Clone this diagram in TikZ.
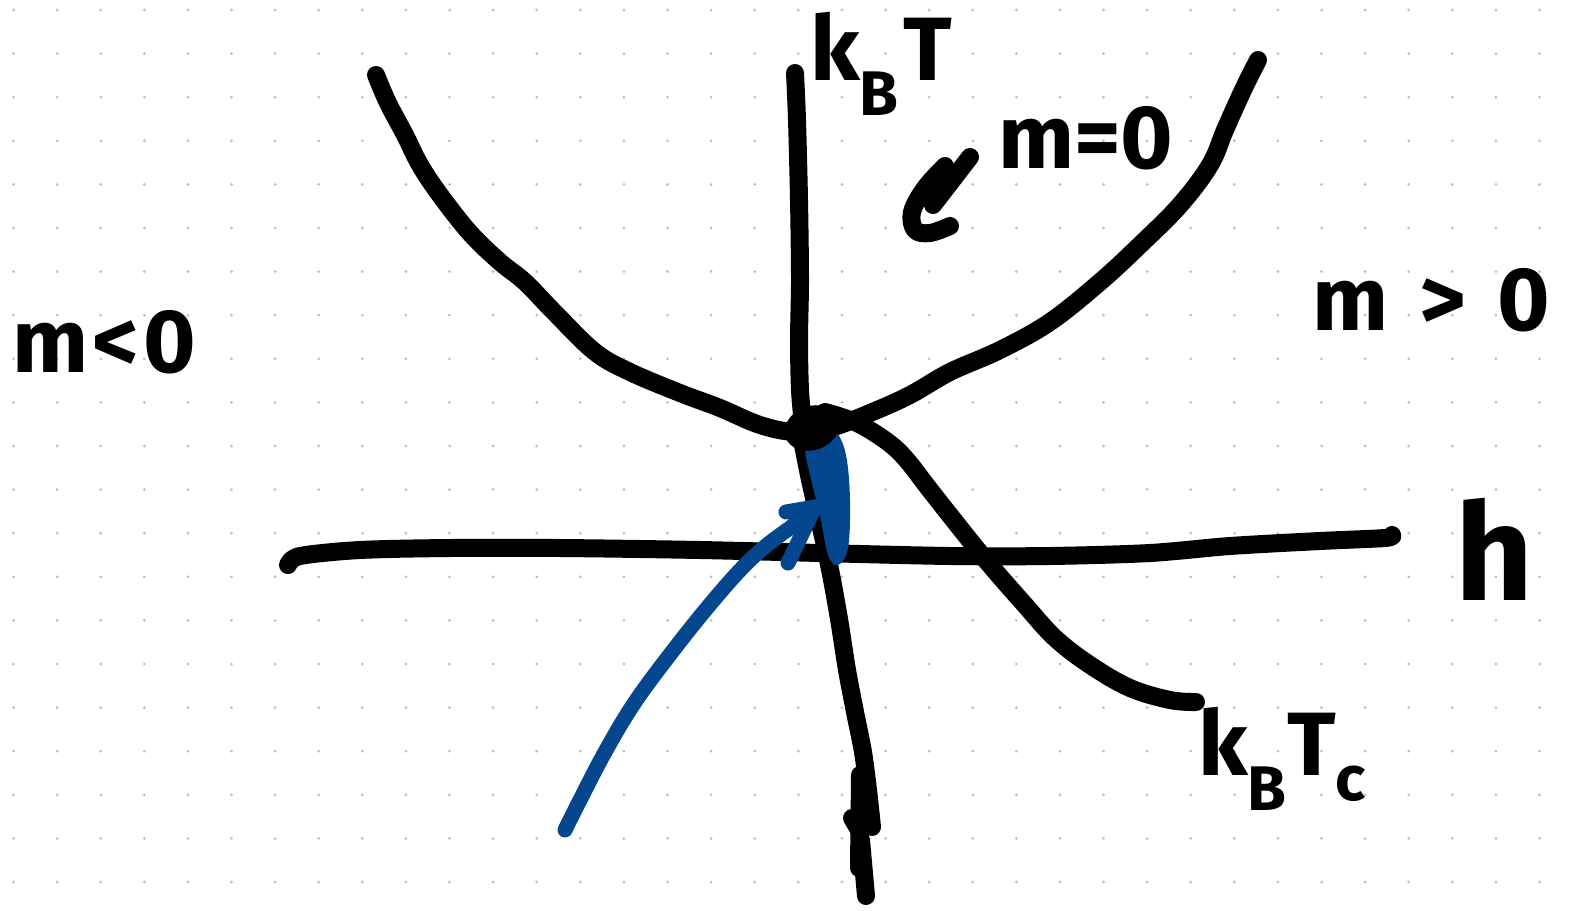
\documentclass[tikz,border=0pt]{standalone}
\usepackage{fontspec}
\setmainfont{Fira Sans}
\usetikzlibrary{positioning}
\definecolor{flowblue}{HTML}{04478F}
\definecolor{dotgray}{HTML}{BDBDBD}

\begin{document}
\begin{tikzpicture}[
  x=1pt,y=-1pt,
  pen/.style={draw=black,line width=18pt,line cap=round,line join=round},
  bluepen/.style={pen,draw=flowblue,line width=15pt},
  lbl/.style={inner sep=0pt,font=\fontsize{90}{90}\selectfont\bfseries},
  biglbl/.style={lbl,font=\fontsize{135}{135}\selectfont\bfseries}
]
\fill[white] (0,0) rectangle (1579,910);
\useasboundingbox (0,0) rectangle (1579,910);
% dotted paper
\foreach \i in {0,...,35}
  \foreach \j in {0,...,20}
    \fill[dotgray] (13.5+43.6*\i,10+43.6*\j) circle (1.5);

% h axis
\draw[pen] plot[smooth,tension=0.5] coordinates {(288,565) (300,556) (360,550) (450,548)
  (560,548) (700,550) (820,553) (950,556) (1050,556) (1150,553) (1230,546)
  (1320,541) (1385,538) (1392,535)};
% k_B T axis
\draw[pen] plot[smooth,tension=0.5] coordinates {(795,73) (797,120) (799,200) (800,280)
  (799,340) (800,390) (803,425)};
\draw[pen] plot[smooth,tension=0.5] coordinates {(803,445) (810,480) (818,515) (826,550)
  (833,585) (840,625) (847,670) (855,712) (863,752) (868,790) (872,827)};
\draw[pen] (860,775) -- (859,868);
\draw[pen] (852,818) -- (859,830);
\draw[pen] (861,840) -- (866,896);

% critical line m=0
\draw[pen] plot[smooth,tension=0.6] coordinates {(376,75) (388,103) (405,135) (420,165)
  (440,195) (470,233) (500,262) (525,282) (555,313) (595,352) (630,372)
  (680,393) (720,408) (760,425) (795,432) (830,428) (870,413) (910,395)
  (950,372) (1000,350) (1050,322) (1100,282) (1140,245) (1180,205)
  (1210,165) (1225,130) (1243,90) (1258,60)};
% k_B T_c line
\draw[pen] plot[smooth,tension=0.6] coordinates {(825,412) (855,422) (885,440) (905,458)
  (930,490) (960,528) (990,565) (1025,605) (1055,638) (1090,665)
  (1130,688) (1170,700) (1196,702)};

% fixed point
\coordinate (fp) at (812,428);
\coordinate (tip) at (815,507);
\fill[flowblue] plot[smooth cycle,tension=0.6] coordinates {(806,447) (822,430) (836,432)
  (846,455) (850,500) (848,548) (838,565) (828,555) (820,515) (810,475)};
\fill[black,rotate around={20:(fp)}] (fp) ellipse [x radius=28,y radius=22];

% flow into the fixed point
\draw[bluepen] plot[smooth,tension=0.6] coordinates {(565,830) (580,800) (605,752)
  (635,702) (675,648) (712,602) (743,567) (767,545) (790,528)} -- (tip);
\draw[bluepen] (786,512) -- (tip);
\draw[bluepen] (788,563) -- (tip);

% pointer to m=0
\draw[pen] plot[smooth,tension=0.6] coordinates {(945,166) (925,188) (912,212) (915,230)
  (930,233) (950,226)};
\draw[pen] (970,157) -- (933,205);

% labels
\node[lbl,anchor=base west] (kT) at (810,80) {k\textsubscript{B}\hspace{0.05em}T};
\node[lbl,anchor=base west] (mzero) at (998,168) {m=0};
\node[lbl,anchor=base west] (mpos) at (1312,330) {m\hspace{0.35em}>\hspace{0.35em}0};
\node[lbl,anchor=base west] (mneg) at (12,372) {m\hspace{0.05em}<\hspace{0.05em}0};
\node[biglbl,anchor=base west] (h) at (1455,600) {h};
\node[lbl,anchor=base west] (kTc) at (1198,775) {k\textsubscript{B}T\textsubscript{c}};
\end{tikzpicture}
\end{document}
